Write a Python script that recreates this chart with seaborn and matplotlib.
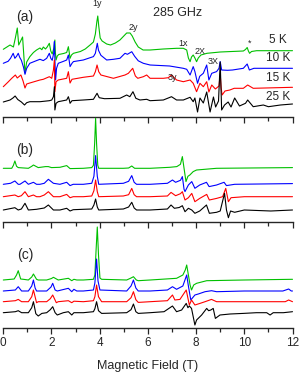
import pandas as pd
import matplotlib.pyplot as plt
from matplotlib.ticker import MultipleLocator
import seaborn as sns

sns.set_style("ticks")
plt.rcParams['font.family'] = ['Liberation Sans', 'DejaVu Sans']

# temperatures / colours of the four traces in every panel
temps = ['5 K', '10 K', '15 K', '25 K']
colors = ['#00c000', '#0000ff', '#ff0000', '#000000']

# spectra: (field in T, signal in a.u.)
# panel (a) - experimental, 285 GHz
a_5K = [(0.00, 0.7), (0.28, 5), (0.42, 3), (0.50, 12), (0.58, 22), (0.64, 5), (0.72, 9), (0.80, 13),
        (0.85, -5), (0.90, -23), (0.97, -12), (1.10, -6.7), (1.25, -2.5), (1.38, 0), (1.52, 2),
        (1.60, 0.3), (1.66, 3), (1.75, 1), (1.82, 3), (1.91, 6.7), (1.97, -1), (2.03, -4), (2.10, 2),
        (2.14, 10), (2.16, -2), (2.19, -10), (2.24, -6), (2.30, -4.5), (2.50, -3.5), (2.63, -2.5),
        (2.70, 3.3), (2.74, -3), (2.77, -8.3), (2.83, -5), (2.91, -3.3), (3.20, -1.5), (3.40, 1),
        (3.60, 5), (3.74, 8), (3.82, 16), (3.88, 28), (3.92, 34), (3.96, 24), (4.02, 12), (4.10, 9),
        (4.29, 6), (4.45, 5), (4.65, 7), (4.84, 10), (5.00, 14), (5.12, 17), (5.26, 17), (5.35, 14),
        (5.47, 8), (5.60, 3), (5.80, 0), (6.09, 0), (6.64, 1), (7.19, 1.7), (7.47, 1.7), (7.61, 0),
        (7.68, -8), (7.75, -11.7), (7.81, -7), (7.88, -5), (7.95, -8), (8.02, -11.7), (8.09, -8),
        (8.20, -5), (8.45, -3.3), (9.00, -2), (9.96, -1), (10.05, 0.5), (10.12, 2.5), (10.17, -1),
        (10.22, -3.3), (10.30, -1.5), (10.51, -0.7), (12.00, -0.7)]
a_10K = [(0.00, 0), (0.20, 2), (0.30, 5), (0.41, 10), (0.48, 5), (0.55, 7), (0.62, 10), (0.68, 6),
         (0.75, 3), (0.84, -4), (0.90, -11), (0.97, -5), (1.10, 0), (1.38, 2.7), (1.52, 4), (1.66, 2.7),
         (1.80, 5), (1.91, 10), (1.97, 5), (2.03, 3), (2.09, 10), (2.12, 21.7), (2.15, -3.3),
         (2.17, -16.7), (2.21, -5), (2.28, 0), (2.50, 2), (2.63, 3.3), (2.70, 8.3), (2.74, 1.7),
         (2.77, -3.3), (2.85, 0), (2.91, 1.7), (3.32, 3.3), (3.74, 6.7), (3.82, 10), (3.90, 20),
         (3.95, 13), (4.05, 8), (4.29, 3.3), (4.57, 4), (4.84, 5), (5.05, 10), (5.15, 9), (5.33, 11.6),
         (5.45, 7), (5.60, 2.5), (5.81, 0), (6.09, -1.7), (6.90, -2.7), (7.47, -5), (7.61, -6),
         (7.75, -11.7), (7.88, -3.3), (7.95, -8.3), (8.06, -20), (8.15, -13), (8.30, -10), (8.44, -1.7),
         (8.53, -16.7), (8.65, -10), (8.85, -8.3), (8.95, -5), (9.00, 1.7), (9.06, -6.7), (9.30, -7),
         (9.51, -6.7), (9.96, -5), (10.12, -0.7), (10.21, -6.7), (10.40, -5), (12.00, -5)]
a_15K = [(0.00, -6.7), (0.20, -2), (0.35, 1.7), (0.50, 5), (0.58, 2), (0.73, 5), (0.82, -1), (0.90, -8),
         (0.97, -4), (1.10, -3), (1.52, 0), (1.66, 0.7), (1.91, 3.3), (2.01, 1.7), (2.08, 10), (2.12, 20),
         (2.14, -11.7), (2.19, -1.7), (2.28, 0), (2.63, 1.7), (2.70, 8.3), (2.74, 1.7), (2.77, -3),
         (2.85, 0.7), (3.32, 2.7), (3.74, 4), (3.82, 8.3), (3.89, 15), (3.96, 8.3), (4.05, 5),
         (4.57, 1.7), (5.05, 5), (5.19, 6.7), (5.37, 11.7), (5.48, 4), (5.58, 1.7), (5.81, 3.3),
         (5.95, 5), (6.09, 1.7), (6.64, 1.7), (6.85, 2.3), (6.98, 5), (7.19, 0), (7.47, -1.7), (7.75, 0),
         (7.88, -3.3), (8.02, -11.7), (8.16, -3.3), (8.30, -6.7), (8.44, -1.7), (8.53, -12), (8.65, -5),
         (8.80, -9), (8.95, -6), (9.00, 6), (9.04, -8), (9.08, -15), (9.20, -11), (9.40, -10),
         (9.58, -8.3), (9.96, -8.3), (10.14, -5), (10.37, -8.3), (12.00, -7.3)]
a_25K = [(0.00, -1), (0.28, 1), (0.40, 3), (0.49, 5), (0.60, 1.5), (0.75, -1), (0.88, -4), (0.97, -1.7),
         (1.10, -0.7), (1.52, -0.7), (1.91, 0.3), (2.01, 1), (2.08, 4.3), (2.12, 14.3), (2.14, -9),
         (2.19, -2.3), (2.28, -0.7), (2.63, 1), (2.70, 4.3), (2.74, 1), (2.77, -2.3), (2.85, 0.3),
         (3.32, 1), (3.74, 1.7), (3.89, 7.7), (3.98, 3.3), (4.20, 2.3), (4.84, 2.7), (5.12, 6),
         (5.25, 4.3), (5.38, 9.3), (5.50, 2.7), (5.67, 1), (5.95, 1.7), (6.09, 0.3), (6.64, 1),
         (6.98, 4.3), (7.19, 1), (7.47, 1), (7.75, 3.7), (7.88, -0.7), (7.95, 3), (8.06, -11), (8.16, 3),
         (8.30, -2), (8.44, 9), (8.58, -11), (8.72, 4), (8.81, -6), (8.93, 0), (9.00, 39), (9.06, -9),
         (9.18, -4), (9.33, -1), (9.45, -6), (9.60, 3), (9.80, -5), (10.05, -2.3), (10.14, 1),
         (10.37, -5.7), (10.79, -4), (11.00, -5.7), (11.50, -4), (12.00, -3)]

# panel (b) - simulation 1
b_5K = [(0.00, 0), (0.35, 0), (0.42, 3), (0.48, 7.3), (0.55, 2), (0.62, 0.7), (1.04, 0), (1.18, 2),
        (1.25, 3.3), (1.45, 0.7), (1.75, 1.7), (1.87, 1.7), (2.00, 0.7), (2.35, 1), (2.63, 2.7),
        (2.77, -0.3), (3.32, 0), (3.67, 0.7), (3.74, 3), (3.79, 25), (3.83, 50), (3.87, 25), (3.92, 3),
        (3.96, 0), (4.98, 0), (5.20, 0.3), (5.33, 2.3), (5.45, 0), (6.09, 0), (6.91, 1), (7.20, 1.7),
        (7.35, 4), (7.43, 11.7), (7.50, 0), (7.58, -13.3), (7.66, -8), (7.74, -6.7), (7.88, -3.3),
        (8.02, -1.7), (8.85, 0), (12.00, 0.7)]
b_10K = [(0.00, 0), (0.30, 1), (0.48, 3.3), (0.62, 0), (0.69, 0), (0.90, 3.3), (1.04, 0), (1.25, 2),
         (1.38, 0), (1.52, 0), (1.70, 1), (1.87, 5), (2.08, 1), (2.35, 0), (2.63, 2), (2.77, -1.3),
         (2.90, 0), (3.32, 0), (3.67, 1), (3.76, 8), (3.83, 28.7), (3.90, 8), (3.96, 0), (4.98, 1),
         (5.20, 3), (5.33, 8.7), (5.43, 2), (5.53, 0), (6.09, 0), (6.81, 1), (7.02, 4.3), (7.15, 2),
         (7.35, 4), (7.43, 7.7), (7.50, -5), (7.54, -7.3), (7.68, -0.7), (7.82, 2.7), (7.95, -4),
         (8.15, -0.7), (8.43, 2), (8.54, -2.3), (8.85, -0.7), (9.16, 2), (9.26, -1.3), (9.60, 0),
         (12.00, 0.7)]
b_15K = [(0.00, 0), (0.48, 1.7), (0.62, 0), (0.75, 1), (0.90, 5), (1.04, 0), (1.25, 1.7), (1.38, 0),
         (1.52, 0), (1.70, 1.7), (1.87, 5), (2.08, 0), (2.35, 0), (2.63, 2.3), (2.77, -1), (2.90, 0),
         (3.32, 0), (3.67, 0.7), (3.76, 6), (3.83, 16.7), (3.90, 5), (3.96, 0), (4.98, 0.7), (5.20, 2),
         (5.33, 8.3), (5.43, 2), (5.53, 0), (6.09, 0), (6.81, 0.7), (6.96, 4.3), (7.15, 1), (7.35, 3),
         (7.43, 5), (7.54, -3.3), (7.68, -1), (7.82, 3.3), (7.95, -5), (8.15, -1.7), (8.44, 2.3),
         (8.55, -3.3), (8.85, -1.7), (9.10, 0), (9.23, 8.3), (9.34, -5), (9.45, -1), (10.00, 0),
         (12.00, 0)]
b_25K = [(0.00, 0), (0.48, 2.3), (0.62, 0), (0.75, 1), (0.90, 6.7), (1.04, 0), (1.38, 0.7), (1.70, 2),
         (1.87, 5), (2.08, 0), (2.35, 0), (2.63, 1.7), (2.77, -1), (2.90, 0.3), (3.32, 0.7), (3.67, 1),
         (3.76, 5), (3.83, 11), (3.90, 3), (3.96, 0), (4.98, 1), (5.20, 3), (5.33, 7.7), (5.43, 2),
         (5.53, 0), (6.09, 0), (6.81, 1), (6.96, 5), (7.10, 1.7), (7.30, 2.5), (7.43, 4.3), (7.54, -1.7),
         (7.68, 1.7), (7.82, 0), (7.95, -3.3), (8.15, -1), (8.43, 5), (8.55, -3.3), (8.85, -2.3),
         (9.00, -1), (9.18, 16.7), (9.26, 0), (9.34, -7.7), (9.43, -1), (9.60, -2.3), (10.00, 0),
         (11.10, -1), (12.00, 0)]

# panel (c) - simulation 2
c_5K = [(0.00, 0), (0.45, 1), (0.55, 5), (0.62, 9.3), (0.72, 1), (0.83, 0.7), (1.04, 0), (1.18, 3),
        (1.25, 6), (1.38, 0.7), (1.45, 0), (1.80, 0), (2.00, 1.5), (2.08, 2.7), (2.28, 0), (2.70, 1.7),
        (2.84, -0.7), (2.93, 0.7), (3.05, 0), (3.32, 0), (3.74, 0.7), (3.80, 5), (3.85, 30), (3.90, 53),
        (3.95, 25), (4.01, 2), (4.08, 0.7), (5.12, 0), (5.30, 2), (5.40, 3.3), (5.52, 0), (5.60, -0.7),
        (6.09, 0), (7.19, 1.7), (7.45, 5), (7.55, 10), (7.61, 15), (7.68, 5), (7.75, -5), (7.81, -10),
        (7.90, -5), (8.02, -3.3), (8.44, -0.7), (10.00, 0), (12.00, 0.7)]
c_10K = [(0.00, 0), (0.50, 1), (0.62, 4.3), (0.76, 0), (1.04, 0), (1.18, 5), (1.25, 11), (1.32, 3),
         (1.38, 0), (1.80, 0), (1.98, 4), (2.05, 7.7), (2.15, 1), (2.24, 0), (2.70, 2.7), (2.84, -0.7),
         (2.93, 1.7), (3.05, 0), (3.32, 0), (3.74, 1), (3.80, 8), (3.87, 32), (3.93, 10), (4.01, 1),
         (5.12, 0), (5.30, 5), (5.40, 11), (5.50, 3), (5.60, 0), (6.09, 0), (6.81, 1), (7.02, 4.3),
         (7.19, 1.7), (7.45, 5), (7.61, 16), (7.68, 5), (7.78, -9), (7.95, -4), (8.09, -3), (8.37, -0.7),
         (8.64, 0.3), (8.85, -0.7), (10.00, 0), (11.60, 0), (11.84, 2), (11.95, 0), (12.00, 0)]
c_15K = [(0.00, 0), (0.50, 1), (0.62, 2.3), (0.76, 0), (1.04, 0), (1.18, 5), (1.25, 11.7), (1.38, -1),
         (1.45, 0), (1.80, 0), (1.95, 3), (2.05, 6.7), (2.20, -1), (2.28, 0), (2.70, 1), (2.84, -1),
         (2.93, 0.5), (3.32, 0), (3.74, 1), (3.80, 5), (3.87, 16.7), (3.95, 5), (4.08, 0), (5.12, 0),
         (5.30, 4), (5.40, 10), (5.50, 2), (5.60, -0.7), (6.09, 0), (6.81, 1), (7.02, 6.7), (7.12, 1.7),
         (7.33, 2.3), (7.59, 11.7), (7.72, -3.3), (7.81, 1.7), (7.95, -3.3), (8.16, -1.7), (8.37, 0),
         (8.64, 2.3), (8.85, 0), (10.00, 0), (11.70, 0), (11.84, 1.7), (12.00, 0)]
c_25K = [(0.00, 0), (0.50, 1), (0.62, 2), (0.76, 0), (1.04, 0), (1.18, 5), (1.25, 11), (1.35, -1),
         (1.45, -3.3), (1.60, -0.7), (1.80, 0), (1.95, 3), (2.05, 6), (2.15, 0), (2.24, -2.3), (2.49, 0),
         (2.70, 1), (2.84, -2.3), (2.93, 0), (3.32, 0), (3.74, 1), (3.80, 4), (3.87, 11), (3.95, 2),
         (4.08, -0.7), (5.12, 0), (5.30, 3), (5.40, 8.7), (5.50, 1), (5.60, -0.7), (6.09, 0), (6.67, 1),
         (7.02, 6.7), (7.19, 1), (7.40, 2.7), (7.59, 9.3), (7.66, 5), (7.72, 6.7), (7.81, 4.3),
         (7.95, -12.3), (8.02, -7.3), (8.23, -2.3), (8.44, 4.3), (8.52, 2), (8.61, 2.7), (8.71, 4.3),
         (8.80, -5.7), (8.99, -2.3), (9.41, -1.3), (9.96, -0.7), (10.50, 0), (10.93, 0), (11.07, -2.3),
         (11.20, 0), (11.62, 0), (12.00, 1)]

# vertical stacking of the traces (same units as the signal)
a_offsets = [67, 53.7, 37, 16]
b_offsets = [53.7, 37.7, 25.3, 12]
c_offsets = [48, 37, 26.3, 15.3]

W, H = 300, 373
fig = plt.figure(figsize=(W / 100, H / 100), dpi=100)

# panel bottom (px from top) and height (px)
panels = [
    ('(a)', [a_5K, a_10K, a_15K, a_25K], a_offsets, 117, 117),
    ('(b)', [b_5K, b_10K, b_15K, b_25K], b_offsets, 222, 105),
    ('(c)', [c_5K, c_10K, c_15K, c_25K], c_offsets, 328, 106),
]

x0, x1 = 3.3, 292.5
axes = []
for label, traces, offs, bottom, height in panels:
    ax = fig.add_axes([x0 / W, (H - bottom) / H, (x1 - x0) / W, height / H])
    rows = []
    for t, pts, off in zip(temps, traces, offs):
        for f, s in pts:
            rows.append((t, f, s + off))
    df = pd.DataFrame(rows, columns=['temp', 'field', 'signal'])
    sns.lineplot(data=df, x='field', y='signal', hue='temp', hue_order=temps,
                 palette=colors, estimator=None, sort=False, legend=False,
                 linewidth=0.8, ax=ax)
    for ln in ax.lines:
        ln.set_clip_on(False)
    ax.set_xlim(0, 12)
    ax.set_ylim(0, height)
    ax.patch.set_alpha(0)
    for s in ['left', 'top', 'right']:
        ax.spines[s].set_visible(False)
    ax.spines['bottom'].set_linewidth(1.0)
    ax.set_yticks([])
    ax.xaxis.set_major_locator(MultipleLocator(2))
    ax.xaxis.set_minor_locator(MultipleLocator(1))
    ax.tick_params(axis='x', which='major', direction='out', length=4.5, width=0.9,
                   labelsize=8.5, pad=2)
    ax.tick_params(axis='x', which='minor', direction='out', length=3, width=0.9)
    ax.set_xlabel('')
    ax.set_ylabel('')
    ax.text(0.9, height - 33 if label != '(a)' else 100, label, fontsize=10,
            ha='center', va='center')
    axes.append(ax)

for ax in axes[:2]:
    ax.tick_params(axis='x', labelbottom=False)
axes[2].set_xlabel('Magnetic Field (T)', fontsize=9, labelpad=8)

# annotations of panel (a)
ax = axes[0]
ax.text(7.25, 104, '285 GHz', fontsize=9, ha='center', va='center')
for t, y in zip(temps, [77, 59, 39, 20]):
    ax.text(11.4, y, t, fontsize=8.5, ha='center', va='center')
for txt, xf, y in [('1y', 3.89, 113), ('2y', 5.38, 89), ('1x', 7.46, 74), ('2X', 8.16, 66),
                   ('3X', 8.7, 56), ('3y', 7.0, 39), ('*', 10.2, 74)]:
    ax.text(xf, y, txt, fontsize=6.5, ha='center', va='center')

fig.savefig('out.png', dpi=100)
